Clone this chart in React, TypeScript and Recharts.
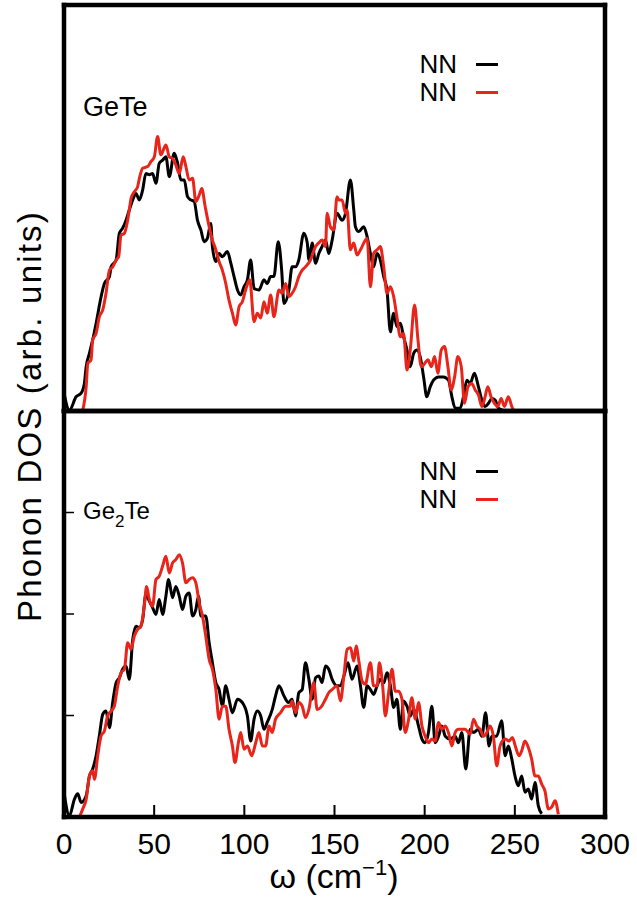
import React from 'react';
import { LineChart, Line, XAxis, YAxis, Legend } from 'recharts';

const FONT = '"Liberation Sans", Arial, Helvetica, sans-serif';
const RED = '#e8251b';

// plot box shared by both panels (px)
const PLOT_LEFT = 64;
const PLOT_RIGHT = 605;
const PLOT_BOTTOM = 817;
const X_MAX = 300;

// tick positions
const xTicks = [0, 50, 100, 150, 200, 250, 300];
const yTicks = [25, 50, 75];

// [omega (cm^-1), DOS (arb. units)]
const geteBlack: [number, number][] = [
  [0, 4.4], [3.0, 0.2], [6.7, 3.5], [9.5, 4.4], [11.3, 6.8], [12.3, 10.9], [14.1, 14.2], [15.9, 17.5],
  [17.8, 21.6], [20.6, 28.2], [22.4, 31.4], [25.2, 33.1], [26.1, 35.5], [28.9, 37.2], [30.7, 43.8],
  [32.5, 45.0], [34.4, 47.0], [36.2, 49.5], [38.1, 52.0], [39.9, 53.6], [41.8, 52.0], [43.6, 54.4],
  [45.4, 58.5], [47.3, 58.2], [49.1, 58.5], [51.0, 56.1], [52.8, 61.0], [54.7, 61.8], [56.5, 62.6],
  [58.4, 57.7], [61.1, 63.5], [63.0, 61.0], [64.8, 56.9], [66.7, 56.9], [68.5, 52.8], [70.3, 52.0],
  [72.2, 51.6], [74.0, 47.0], [75.9, 44.6], [77.7, 41.7], [79.5, 42.5], [81.4, 46.2], [82.3, 40.5],
  [84.2, 36.8], [86.0, 38.8], [87.8, 38.0], [90.6, 39.3], [92.5, 36.4], [94.3, 33.1], [96.2, 29.8],
  [98.0, 28.6], [99.8, 30.6], [101.7, 32.3], [103.5, 37.2], [105.4, 30.2], [108.1, 29.8], [110.9, 32.3],
  [112.7, 31.4], [114.6, 33.1], [116.4, 33.1], [118.8, 41.7], [120.7, 34.7], [122.0, 26.5], [124.7, 29.8],
  [126.5, 35.5], [128.4, 35.5], [130.2, 37.2], [133.0, 43.8], [134.9, 41.4], [135.8, 37.2], [137.6, 41.4],
  [139.5, 36.4], [141.3, 38.8], [143.1, 40.5], [145.0, 42.1], [146.8, 38.8], [148.7, 42.1], [151.4, 48.7],
  [154.2, 47.0], [156.1, 48.7], [158.8, 56.9], [160.7, 49.5], [161.6, 45.4], [163.5, 44.2], [166.2, 45.4],
  [168.1, 42.9], [169.9, 38.8], [171.7, 35.5], [173.6, 38.8], [175.4, 37.2], [177.3, 33.1], [179.1, 29.8],
  [181.0, 19.5], [182.8, 24.1], [184.6, 20.8], [186.5, 21.6], [188.3, 18.3], [190.2, 15.0], [192.0, 10.9],
  [193.9, 14.2], [195.7, 15.0], [197.5, 13.4], [199.4, 8.4], [201.2, 3.5], [203.1, 6.0], [204.9, 7.6],
  [207.7, 8.4], [210.4, 8.4], [213.2, 7.6], [215.1, 3.5], [216.9, 0.7], [219.7, 0.7], [221.5, 3.5],
  [223.4, 7.6], [225.2, 6.8], [227.6, 9.3], [229.8, 6.0], [231.7, 2.7], [233.5, 1.1], [235.4, 1.9],
  [237.2, 3.1], [239.1, 2.7], [240.9, 0.7], [245.0, 0],
];

const geteRed: [number, number][] = [
  [10.4, 0.2], [12.3, 6.0], [13.2, 11.7], [15.0, 12.6], [15.9, 17.5], [17.8, 19.1], [19.6, 23.2],
  [21.5, 24.9], [23.3, 29.0], [25.2, 34.7], [27.0, 35.5], [28.9, 37.2], [30.3, 38.0], [31.6, 43.3],
  [33.5, 43.8], [35.3, 47.0], [36.2, 49.5], [37.2, 52.4], [39.0, 54.0], [40.8, 55.2], [41.8, 57.3],
  [43.6, 59.8], [46.4, 60.2], [48.2, 61.4], [50.1, 62.6], [51.9, 67.6], [53.7, 63.1], [56.5, 65.5],
  [58.4, 62.6], [60.2, 62.2], [62.0, 60.6], [63.9, 58.5], [66.1, 62.6], [67.6, 60.2], [69.4, 56.9],
  [71.3, 57.3], [73.1, 51.6], [75.0, 53.2], [76.4, 54.8], [78.3, 50.3], [80.5, 45.4], [82.3, 42.1],
  [84.2, 39.7], [86.0, 36.8], [87.8, 34.7], [89.7, 31.4], [91.5, 27.3], [93.4, 24.1], [95.2, 21.2],
  [97.1, 25.7], [98.9, 26.9], [100.7, 29.8], [103.0, 32.3], [105.4, 22.0], [107.2, 24.1], [109.1, 22.9],
  [110.9, 26.9], [112.7, 24.1], [114.6, 28.6], [116.4, 23.2], [119.2, 29.8], [121.0, 29.0], [122.9, 31.4],
  [124.7, 28.2], [126.5, 29.0], [128.4, 30.6], [130.2, 33.1], [132.1, 34.7], [133.9, 35.5], [136.7, 37.2],
  [139.5, 40.5], [141.3, 41.4], [143.1, 42.1], [145.0, 40.5], [145.9, 48.7], [147.7, 45.4], [149.6, 44.6],
  [151.4, 52.8], [152.4, 52.0], [154.2, 52.0], [156.1, 48.7], [157.0, 49.5], [158.8, 39.7], [160.7, 41.4],
  [162.5, 38.4], [164.4, 39.7], [168.1, 42.5], [169.9, 30.6], [171.7, 38.8], [173.6, 39.7], [175.4, 40.5],
  [177.3, 35.5], [179.1, 29.0], [181.0, 30.6], [182.8, 28.2], [184.6, 23.2], [186.5, 18.3], [188.3, 19.1],
  [190.2, 10.1], [192.0, 15.0], [194.4, 26.1], [196.3, 17.5], [198.1, 10.9], [200.0, 11.7], [201.8, 12.6],
  [203.7, 10.9], [205.5, 13.4], [207.3, 9.3], [209.2, 15.0], [211.0, 15.9], [212.9, 10.9], [214.7, 5.2],
  [216.6, 8.4], [218.4, 13.4], [220.3, 10.9], [222.1, 1.9], [224.0, 6.0], [226.1, 6.8], [228.0, 5.2],
  [229.8, 4.0], [231.7, 1.1], [233.5, 3.5], [235.0, 6.0], [236.8, 3.5], [238.7, 1.9], [240.5, 1.1],
  [242.4, 3.1], [244.2, 1.1], [246.4, 3.5], [248.3, 1.1], [249.2, 0.2],
];

const ge2teBlack: [number, number][] = [
  [0.3, 5.2], [3.0, 0.3], [5.8, 4.4], [7.6, 5.7], [9.5, 3.6], [12.3, 5.2], [14.1, 10.1], [15.9, 11.8],
  [17.8, 15.1], [19.6, 20.0], [21.5, 25.3], [23.3, 26.1], [25.2, 22.0], [27.0, 28.2], [28.9, 33.1],
  [30.7, 34.3], [32.5, 36.4], [34.4, 37.2], [36.2, 33.9], [38.1, 43.7], [39.9, 47.0], [41.8, 46.6],
  [43.6, 48.6], [45.4, 54.8], [47.3, 53.2], [49.1, 51.6], [51.0, 49.9], [52.8, 53.6], [54.7, 49.9],
  [56.5, 54.4], [58.0, 58.5], [60.2, 54.0], [62.0, 56.8], [63.9, 54.4], [65.7, 51.1], [67.6, 54.4],
  [69.4, 55.2], [71.3, 49.5], [73.1, 51.1], [74.6, 54.4], [75.9, 49.5], [78.6, 49.5], [80.5, 42.9],
  [82.3, 38.0], [84.2, 33.1], [86.0, 31.4], [87.8, 27.3], [89.7, 32.3], [91.5, 29.0], [93.4, 25.7],
  [96.2, 29.0], [98.9, 28.2], [101.7, 24.9], [103.5, 18.7], [105.4, 24.1], [107.2, 26.1], [109.1, 24.9],
  [110.9, 21.6], [112.7, 23.3], [115.5, 26.5], [117.3, 29.8], [119.2, 32.3], [122.0, 29.8], [124.4, 28.2],
  [126.5, 29.0], [128.4, 24.9], [130.2, 30.6], [132.1, 31.4], [133.9, 38.0], [135.8, 33.9], [137.6, 29.0],
  [139.5, 34.3], [141.3, 34.7], [143.1, 33.1], [145.0, 37.2], [146.8, 36.4], [148.7, 33.9], [151.4, 32.3],
  [153.3, 32.3], [155.2, 34.7], [157.5, 38.0], [159.7, 33.9], [162.5, 37.2], [164.4, 32.3], [166.2, 27.0],
  [168.1, 32.3], [169.9, 31.4], [171.7, 30.2], [173.6, 32.3], [175.4, 33.9], [177.3, 33.0], [179.1, 35.5],
  [181.0, 32.3], [182.8, 27.0], [184.6, 29.0], [186.5, 21.6], [188.3, 28.6], [190.2, 27.3], [192.0, 24.9],
  [193.9, 26.5], [196.6, 22.4], [198.5, 19.2], [200.3, 18.3], [202.1, 20.8], [204.0, 27.3], [205.8, 18.3],
  [207.7, 19.9], [209.5, 22.4], [211.4, 19.9], [214.1, 19.2], [216.9, 19.9], [218.7, 18.3], [220.6, 20.8],
  [222.8, 11.8], [225.2, 21.6], [227.1, 20.8], [229.8, 21.6], [231.7, 19.9], [233.8, 25.7], [235.7, 17.5],
  [237.2, 19.9], [239.9, 19.9], [242.7, 23.7], [244.6, 15.1], [246.4, 17.5], [248.3, 14.3], [250.1, 10.1],
  [251.9, 7.7], [253.8, 10.1], [255.6, 6.1], [257.5, 6.9], [259.3, 4.4], [261.2, 8.5], [263.0, 2.8],
  [264.9, 0.8],
];

const ge2teRed: [number, number][] = [
  [8.6, 0], [10.4, 2.0], [12.3, 4.4], [14.1, 10.1], [15.9, 11.4], [16.9, 9.3], [18.7, 15.1], [20.6, 20.0],
  [22.4, 21.2], [24.2, 24.9], [26.1, 26.1], [27.9, 27.3], [29.8, 32.3], [31.6, 35.5], [33.5, 36.4],
  [35.3, 42.9], [37.2, 41.3], [39.0, 44.6], [40.8, 46.2], [42.7, 47.0], [44.5, 51.9], [45.8, 56.8],
  [47.3, 53.6], [49.1, 51.9], [51.0, 58.5], [52.8, 59.3], [54.7, 61.8], [56.5, 64.2], [58.4, 60.1],
  [60.2, 62.6], [62.0, 63.4], [63.9, 64.6], [65.7, 62.6], [67.6, 57.7], [69.4, 58.5], [71.3, 58.9],
  [73.1, 57.7], [75.0, 52.7], [76.8, 49.5], [78.6, 44.6], [80.5, 38.8], [82.3, 36.4], [84.2, 31.4],
  [86.0, 24.1], [87.8, 27.3], [89.7, 27.3], [91.5, 21.6], [93.4, 17.5], [94.8, 13.4], [96.7, 18.3],
  [98.0, 20.8], [99.8, 16.7], [101.7, 17.5], [104.1, 15.1], [106.3, 18.3], [108.1, 20.8], [110.0, 17.5],
  [111.8, 17.5], [113.7, 22.4], [115.5, 20.8], [117.3, 24.1], [120.1, 25.7], [122.9, 27.3], [125.6, 27.3],
  [126.5, 28.6], [128.4, 25.7], [130.2, 28.2], [132.1, 27.3], [133.9, 24.5], [135.8, 26.5], [138.5, 33.1],
  [140.4, 26.5], [142.2, 26.9], [145.0, 29.0], [146.8, 30.6], [148.7, 31.4], [151.4, 32.3], [153.3, 28.6],
  [155.2, 34.7], [157.0, 41.3], [158.9, 41.7], [160.7, 38.4], [162.0, 42.1], [163.5, 38.4], [165.3, 33.5],
  [167.1, 32.7], [169.9, 38.0], [171.7, 32.3], [173.6, 32.3], [174.9, 38.0], [176.7, 32.3], [178.2, 24.9],
  [180.0, 30.6], [181.9, 36.4], [183.7, 31.0], [185.5, 31.0], [187.4, 29.0], [189.2, 20.8], [191.1, 24.1],
  [192.9, 29.4], [194.8, 24.1], [196.6, 28.2], [198.5, 22.4], [200.3, 19.9], [202.1, 18.3], [204.0, 19.2],
  [205.8, 18.7], [207.7, 23.3], [209.5, 21.6], [211.4, 22.4], [213.2, 20.8], [215.1, 17.5], [216.9, 20.8],
  [218.7, 21.6], [222.4, 21.6], [225.2, 20.4], [227.1, 24.1], [228.9, 22.4], [230.8, 21.6], [232.6, 19.9],
  [234.5, 20.8], [236.3, 22.4], [238.1, 19.9], [240.0, 12.6], [241.8, 17.5], [244.6, 19.2], [246.8, 18.7],
  [248.6, 19.6], [250.5, 17.1], [252.3, 15.1], [253.8, 16.3], [255.6, 18.7], [257.5, 17.1], [259.3, 14.3],
  [261.2, 10.1], [263.0, 10.1], [264.9, 8.1], [266.7, 6.4], [268.6, 2.0], [270.4, 2.4], [272.3, 4.0],
  [274.1, 0.7],
];

const toRows = (pairs: [number, number][]) => pairs.map(([omega, dos]) => ({ omega, dos }));

const frame = { stroke: '#000', strokeWidth: 4.5, strokeLinecap: 'square' as const };

// x tick label (tickMargin 16 -> y is 16px under the axis)
const XLabel = (props: any) => {
  const { x, y, payload } = props;
  return (
    <text x={x} y={Number(y) + 21} textAnchor="middle" fontSize={30} fontFamily={FONT} fill="#000">
      {payload.value}
    </text>
  );
};

// inward y tick mark from the mirrored left axis
const YMark = (props: any) => {
  const x = Number(props.x);
  const y = Number(props.y);
  return <path d={`M${x},${y}H${x + 10}`} stroke="#000" strokeWidth={1.5} fill="none" />;
};

const renderLegend = (props: any) => {
  const items = props.payload || [];
  return (
    <div style={{ fontFamily: FONT, fontSize: 26, color: '#000' }}>
      {items.map((p: any, i: number) => (
        <div key={i} style={{ display: 'flex', alignItems: 'center', justifyContent: 'flex-end', height: 28 }}>
          <span style={{ lineHeight: '28px' }}>{p.value}</span>
          <span style={{ display: 'inline-block', width: 22, height: 3, background: p.color, marginLeft: 19 }} />
        </div>
      ))}
    </div>
  );
};

type PanelProps = {
  black: [number, number][];
  red: [number, number][];
  margin: { top: number; right: number; bottom: number; left: number };
  legendTop: number;
  bottom?: boolean;
};

// axes are 1px boxes so their lines sit on the plot edges
const Panel = ({ black, red, margin, legendTop, bottom }: PanelProps) => (
  <div style={{ position: 'absolute', left: 0, top: 0 }}>
    <LineChart width={637} height={903} margin={margin}>
      <Line
        xAxisId="x" yAxisId="y" data={toRows(black)} dataKey="dos" name="NN"
        type="monotone" stroke="#000" strokeWidth={3} dot={false} isAnimationActive={false}
      />
      <Line
        xAxisId="x" yAxisId="y" data={toRows(red)} dataKey="dos" name="NN"
        type="monotone" stroke={RED} strokeWidth={3} dot={false} isAnimationActive={false}
      />
      <XAxis
        xAxisId="x" dataKey="omega" type="number" domain={[0, X_MAX]} ticks={xTicks}
        height={1} axisLine={frame} tickLine={false} tickSize={0} tickMargin={16}
        tick={bottom ? <XLabel /> : false} interval={0}
      />
      <XAxis xAxisId="xt" orientation="top" type="number" domain={[0, X_MAX]} height={1}
        axisLine={frame} tick={false} tickLine={false} />
      <YAxis
        yAxisId="y" type="number" domain={[0, 100]} ticks={yTicks} width={1} mirror
        axisLine={frame} tickLine={false} tickSize={0} tickMargin={0}
        tick={bottom ? <YMark /> : false} interval={0}
      />
      <YAxis yAxisId="yr" orientation="right" type="number" domain={[0, 100]} width={1}
        axisLine={frame} tick={false} tickLine={false} />
      <Legend
        layout="vertical" align="center" verticalAlign="middle" content={renderLegend}
        wrapperStyle={{ top: legendTop, left: 380, width: 118 }}
      />
    </LineChart>
  </div>
);

const xPos = (t: number) => PLOT_LEFT + (t / X_MAX) * (PLOT_RIGHT - PLOT_LEFT);

export default function App() {
  return (
    <div style={{ position: 'absolute', left: 0, top: 0, width: 637, height: 903, background: '#fff' }}>
      <Panel black={geteBlack} red={geteRed} margin={{ top: 4, right: 31, bottom: 491, left: 64 }} legendTop={50} />
      <Panel black={ge2teBlack} red={ge2teRed} margin={{ top: 410, right: 31, bottom: 85, left: 64 }} legendTop={457} bottom />
      <svg width={637} height={903} style={{ position: 'absolute', left: 0, top: 0, pointerEvents: 'none' }}
        fontFamily={FONT} fill="#000">
        {/* inward x tick marks on the bottom frame */}
        {xTicks.map((t) => (
          <line key={t} x1={xPos(t)} x2={xPos(t)} y1={PLOT_BOTTOM} y2={PLOT_BOTTOM - 12}
            stroke="#000" strokeWidth={2} />
        ))}
        <text x={83} y={116} fontSize={27}>GeTe</text>
        <text x={83} y={519} fontSize={24}>
          Ge<tspan fontSize={17} dy={8}>2</tspan><tspan dy={-8}>Te</tspan>
        </text>
        <text x={41} y={416} fontSize={33} textAnchor="middle" letterSpacing={2.2}
          transform="rotate(-90 41 416)">Phonon DOS (arb. units)</text>
        <text x={334} y={888} fontSize={34} textAnchor="middle">
          ω (cm<tspan fontSize={22} dy={-13}>−1</tspan><tspan dy={13}>)</tspan>
        </text>
      </svg>
    </div>
  );
}
